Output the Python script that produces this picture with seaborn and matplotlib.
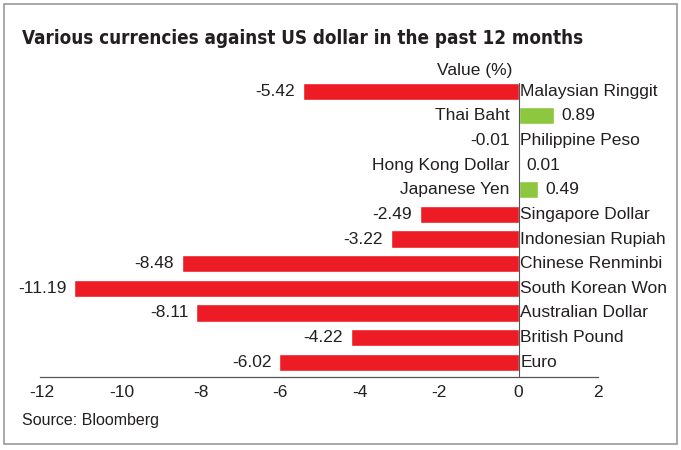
import matplotlib
matplotlib.use("Agg")
import matplotlib.pyplot as plt
import seaborn as sns
import pandas as pd
from matplotlib.patches import Rectangle
from matplotlib import font_manager

# Data
currencies = ["Malaysian Ringgit", "Thai Baht", "Philippine Peso", "Hong Kong Dollar",
              "Japanese Yen", "Singapore Dollar", "Indonesian Rupiah", "Chinese Renminbi",
              "South Korean Won", "Australian Dollar", "British Pound", "Euro"]
values = [-5.42, 0.89, -0.01, 0.01, 0.49, -2.49, -3.22, -8.48, -11.19, -8.11, -4.22, -6.02]
ticks = [-12, -10, -8, -6, -4, -2, 0, 2]

RED = "#ED1C24"
GREEN = "#8DC63F"

df = pd.DataFrame({"currency": currencies, "value": values})
df["sign"] = ["pos" if v > 0 else "neg" for v in values]

sns.set_style("white")
plt.rcParams["font.family"] = ["Liberation Sans", "DejaVu Sans"]

fig = plt.figure(figsize=(6.81, 4.5), dpi=100)
ax = fig.add_axes([40 / 681, 1 - 377 / 450, (598 - 40) / 681, (377 - 74) / 450])

sns.barplot(data=df, x="value", y="currency", hue="sign", orient="h",
            palette={"pos": GREEN, "neg": RED}, width=0.7, legend=False,
            saturation=1, ax=ax)

fs = 12.5
for i, (name, v) in enumerate(zip(currencies, values)):
    if v > 0:
        ax.text(-0.22, i, name, ha="right", va="center", fontsize=fs, color="#231f20")
        ax.text(v + 0.18, i, f"{v:.2f}", ha="left", va="center", fontsize=fs, color="#231f20")
    else:
        ax.text(0.04, i, name, ha="left", va="center", fontsize=fs, color="#231f20")
        ax.text(v - 0.2, i, f"{v:.2f}", ha="right", va="center", fontsize=fs, color="#231f20")

ax.axvline(0, ymin=0, ymax=0.97, color="#555555", lw=0.8)
ax.set_xlim(-12.05, 2.0)
ax.set_ylim(11.6, -0.7)
ax.set_xticks(ticks)
ax.set_xticklabels([str(t) for t in ticks], fontsize=fs, color="#231f20")
ax.tick_params(axis="x", length=0, pad=6)
ax.set_yticks([])
ax.set_xlabel("")
ax.set_ylabel("")
sns.despine(ax=ax, left=True, top=True, right=True)
ax.spines["bottom"].set_color("#555555")
ax.spines["bottom"].set_linewidth(0.9)

fig.text(512 / 681, 1 - 70 / 450, "Value (%)", ha="right", va="center", fontsize=fs, color="#231f20")

title_font = font_manager.FontProperties(family="DejaVu Sans", weight="bold", stretch="condensed", size=16)
t = fig.text(22 / 681, 1 - 38 / 450, "Various currencies against US dollar in the past 12 months",
             ha="left", va="center", fontproperties=title_font, color="#231f20")
# squeeze title to reference width if the condensed face is missing
fig.canvas.draw()
w = t.get_window_extent().width
target = 561
if w > target:
    title_font.set_size(16 * target / w)
    t.set_fontproperties(title_font)

fig.text(22 / 681, 1 - 420 / 450, "Source: Bloomberg", ha="left", va="center", fontsize=11.5, color="#231f20")

fig.patches.append(Rectangle((4 / 681, 6 / 450), 673 / 681, 440 / 450, transform=fig.transFigure,
                             fill=False, edgecolor="#999999", lw=1.2))

fig.savefig("out.png", dpi=100)
